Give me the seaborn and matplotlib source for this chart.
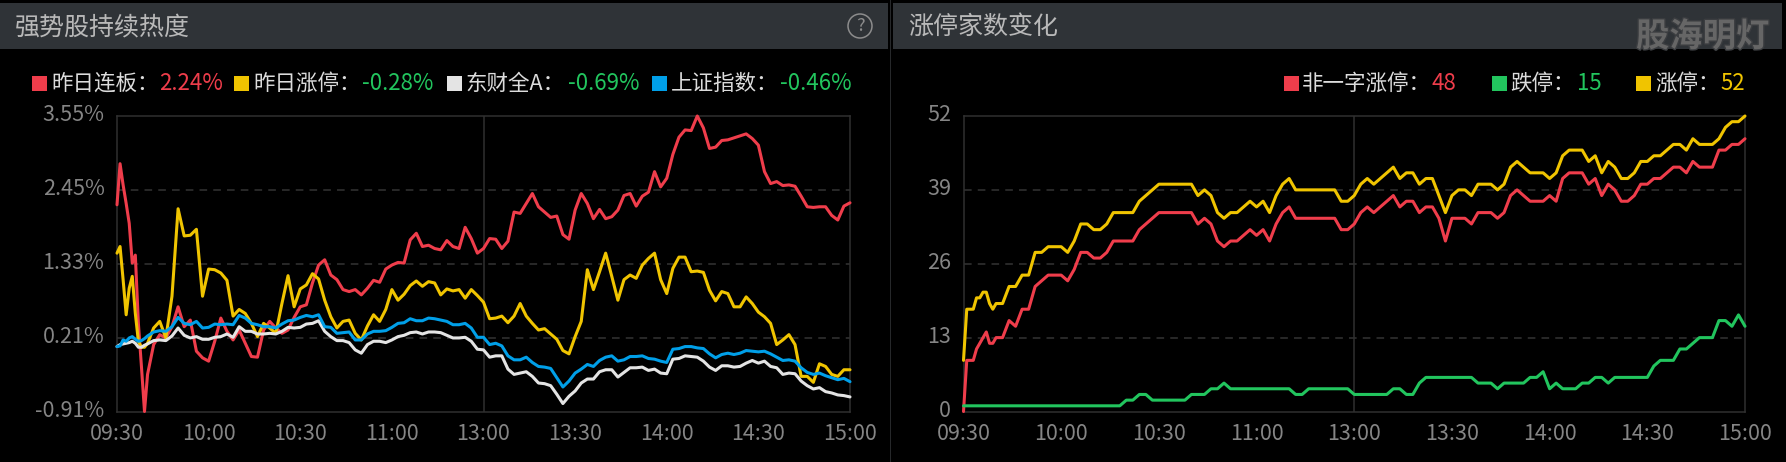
import matplotlib
matplotlib.use('Agg')
import matplotlib.pyplot as plt
import matplotlib.patches as patches
import matplotlib.patheffects as pe
from matplotlib.transforms import ScaledTranslation
import seaborn as sns

# first ten minutes read minute by minute, the rest every two minutes
minutes = list(range(0, 10)) + list(range(10, 241, 2))
time_labels = ['09:30', '10:00', '10:30', '11:00', '13:00', '13:30', '14:00', '14:30', '15:00']
left_yticks = [-0.91, 0.205, 1.32, 2.435, 3.55]
left_ylabels = ['-0.91%', '0.21%', '1.33%', '2.45%', '3.55%']
right_yticks = [0, 13, 26, 39, 52]

# 强势股持续热度 (%)
lianban = [2.21, 2.83, 2.51, 2.23, 1.93, 1.33, 1.45, 0.42, -0.23, -0.91,
           -0.35, 0.10, 0.25, 0.20, 0.37, 0.67, 0.37, 0.47, 0.00, -0.10, -0.15, 0.15, 0.50, 0.30, 0.17, 0.32, 0.12,
           -0.08, -0.09, 0.32, 0.45, 0.35, 0.27, 0.32, 0.51, 0.67, 0.70, 1.03, 1.30, 1.38, 1.15, 1.08, 0.93, 0.90,
           0.93, 0.85,
           0.95, 1.07, 1.04, 1.24, 1.30, 1.34, 1.33, 1.68, 1.78, 1.58, 1.60, 1.55, 1.53, 1.67, 1.58, 1.55, 1.87,
           1.70, 1.48, 1.55, 1.70, 1.69, 1.55, 1.66, 2.10, 2.08, 2.23, 2.38, 2.18, 2.10, 2.02, 2.04, 1.76, 1.69,
           2.13, 2.38, 2.23, 2.00, 2.14, 2.00,
           2.03, 2.13, 2.35, 2.38, 2.19, 2.34, 2.40, 2.71, 2.48, 2.61, 2.97, 3.23, 3.34, 3.33, 3.55, 3.37, 3.06,
           3.08, 3.18, 3.19, 3.22, 3.25, 3.28, 3.21, 3.11, 2.71, 2.53, 2.56, 2.50, 2.51, 2.49, 2.34, 2.18, 2.17,
           2.18, 2.18, 2.05, 1.98, 2.19, 2.24]
zhangting = [1.48, 1.58, 1.08, 0.55, 0.95, 1.13, 0.57, 0.15, 0.06, 0.06,
             0.12, 0.35, 0.45, 0.20, 0.83, 2.15, 1.74, 1.75, 1.84, 0.83, 1.24, 1.23, 1.18, 1.07, 0.53, 0.63, 0.57,
             0.42, 0.22, 0.42, 0.35, 0.27, 0.72, 1.14, 0.67, 0.94, 1.00, 1.17, 1.09, 0.77, 0.52, 0.35, 0.45, 0.47,
             0.27, 0.17,
             0.38, 0.55, 0.45, 0.63, 0.93, 0.77, 0.86, 0.99, 1.06, 0.98, 1.05, 1.03, 0.85, 0.94, 0.91, 0.93, 0.80,
             0.93, 0.84, 0.74, 0.49, 0.50, 0.53, 0.43, 0.53, 0.72, 0.53, 0.42, 0.32, 0.34, 0.26, 0.18, 0.01, -0.04,
             0.22, 0.45, 1.23, 0.93, 1.20, 1.48,
             1.13, 0.77, 1.08, 1.15, 1.10, 1.30, 1.40, 1.48, 1.08, 0.87, 1.25, 1.42, 1.42, 1.20, 1.21, 1.19, 0.92,
             0.76, 0.90, 0.87, 0.67, 0.67, 0.82, 0.72, 0.59, 0.52, 0.42, 0.10, 0.17, 0.25, 0.10, -0.38, -0.38, -0.47,
             -0.19, -0.23, -0.35, -0.38, -0.28, -0.28]
quan_a = [0.07, 0.10, 0.11, 0.12, 0.13, 0.15, 0.12, 0.06, 0.06, 0.09,
          0.11, 0.16, 0.17, 0.16, 0.23, 0.35, 0.24, 0.20, 0.22, 0.18, 0.18, 0.21, 0.22, 0.26, 0.21, 0.37, 0.30,
          0.30, 0.26, 0.26, 0.27, 0.26, 0.30, 0.36, 0.35, 0.36, 0.41, 0.42, 0.46, 0.30, 0.22, 0.16, 0.16, 0.13,
          0.02, -0.03,
          0.10, 0.15, 0.15, 0.13, 0.17, 0.22, 0.24, 0.28, 0.29, 0.26, 0.29, 0.29, 0.28, 0.24, 0.20, 0.20, 0.21,
          0.15, 0.03, 0.02, -0.09, -0.07, -0.07, -0.27, -0.35, -0.33, -0.31, -0.38, -0.48, -0.49, -0.52, -0.65,
          -0.79, -0.68, -0.60, -0.48, -0.42, -0.42, -0.31, -0.28,
          -0.28, -0.39, -0.32, -0.25, -0.25, -0.24, -0.29, -0.27, -0.33, -0.34, -0.12, -0.11, -0.07, -0.08, -0.09,
          -0.15, -0.24, -0.29, -0.22, -0.22, -0.24, -0.23, -0.18, -0.14, -0.18, -0.15, -0.23, -0.25, -0.35, -0.33,
          -0.34, -0.45, -0.52, -0.57, -0.55, -0.61, -0.63, -0.66, -0.67, -0.69]
shangzheng = [0.07, 0.08, 0.17, 0.15, 0.20, 0.22, 0.18, 0.15, 0.16, 0.19,
              0.23, 0.29, 0.31, 0.30, 0.37, 0.51, 0.42, 0.40, 0.45, 0.35, 0.36, 0.41, 0.40, 0.41, 0.40, 0.54, 0.50,
              0.42, 0.40, 0.37, 0.37, 0.35, 0.41, 0.46, 0.47, 0.51, 0.54, 0.52, 0.55, 0.37, 0.36, 0.27, 0.28, 0.29,
              0.17, 0.17,
              0.26, 0.30, 0.30, 0.31, 0.36, 0.42, 0.43, 0.49, 0.46, 0.46, 0.50, 0.49, 0.47, 0.45, 0.40, 0.40, 0.42,
              0.35, 0.21, 0.21, 0.10, 0.12, 0.08, -0.07, -0.13, -0.13, -0.09, -0.17, -0.23, -0.24, -0.26, -0.40,
              -0.54, -0.45, -0.33, -0.27, -0.20, -0.23, -0.14, -0.09,
              -0.07, -0.15, -0.13, -0.08, -0.08, -0.07, -0.11, -0.12, -0.15, -0.17, 0.03, 0.04, 0.07, 0.07, 0.05,
              0.04, -0.04, -0.10, -0.05, -0.03, -0.05, -0.03, 0.01, 0.00, -0.01, 0.00, -0.04, -0.09, -0.14, -0.13,
              -0.15, -0.25, -0.32, -0.35, -0.33, -0.37, -0.40, -0.43, -0.41, -0.46]

# 涨停家数变化
feiyizi = [0, 9, 9, 9, 11, 12, 13, 14, 12, 12,
           13, 13, 16, 15, 18, 18, 22, 23, 24, 24, 24, 23, 25, 28, 28, 27, 27, 28, 30, 30, 30, 30, 32, 33, 34, 35,
           35, 35, 35, 35, 35, 33, 34, 33, 30, 29, 30, 30, 31, 32, 31, 32, 30, 33, 35, 36, 34, 34, 34, 34, 34, 34,
           34, 32, 32,
           33, 35, 36, 35, 36, 37, 38, 36, 37, 37, 35, 36, 36, 34, 30, 34, 34, 34, 33, 35, 35, 35, 34, 35, 38, 39,
           38, 37, 37, 37, 38, 37, 41, 42, 42, 42, 40, 41, 38, 40, 39, 37, 37, 38, 40, 40, 41, 41, 42, 43, 43, 42,
           44, 43, 43, 43, 46, 46, 47, 47, 48]
dieting = [1, 1, 1, 1, 1, 1, 1, 1, 1, 1,
           1, 1, 1, 1, 1, 1, 1, 1, 1, 1, 1, 1, 1, 1, 1, 1, 1, 1, 1, 1, 2, 2, 3, 3, 2, 2, 2, 2, 2, 2, 3, 3, 3, 4, 4,
           5, 4, 4, 4, 4, 4, 4, 4, 4, 4, 4, 3, 3, 4, 4, 4, 4, 4, 4, 4,
           3, 3, 3, 3, 3, 3, 4, 4, 3, 3, 5, 6, 6, 6, 6, 6, 6, 6, 6, 5, 5, 5, 4, 5, 5, 5, 5, 6, 6, 7, 4, 5, 4, 4, 4,
           5, 5, 6, 6, 5, 6, 6, 6, 6, 6, 6, 8, 9, 9, 9, 11, 11, 12, 13, 13, 13, 16, 16, 15, 17, 15]
zhangting_count = [9, 18, 18, 18, 20, 20, 21, 21, 19, 18,
                   19, 19, 22, 22, 24, 24, 28, 28, 29, 29, 29, 28, 30, 33, 33, 32, 32, 33, 35, 35, 35, 35, 37, 38, 39,
                   40, 40, 40, 40, 40, 40, 38, 39, 38, 35, 34, 35, 35, 36, 37, 36, 37, 35, 38, 40, 41, 39, 39, 39, 39,
                   39, 39, 39, 37, 37,
                   38, 40, 41, 40, 41, 42, 43, 41, 42, 42, 40, 41, 41, 38, 35, 38, 39, 39, 38, 40, 40, 40, 39, 40, 43,
                   44, 43, 42, 42, 42, 41, 42, 45, 46, 46, 46, 44, 45, 42, 44, 43, 41, 41, 42, 44, 44, 45, 45, 46, 47,
                   47, 46, 48, 47, 47, 47, 48, 50, 51, 51, 52]

left_legend = [('昨日连板：', '2.24%', '#ef3d4b'), ('昨日涨停：', '-0.28%', '#22c55e'),
               ('东财全A：', '-0.69%', '#22c55e'), ('上证指数：', '-0.46%', '#22c55e')]
right_legend = [('非一字涨停：', '48', '#ef3d4b'), ('跌停：', '15', '#22c55e'), ('涨停：', '52', '#f0c400')]

RED, YELLOW, WHITE, BLUE, GREEN = '#ef3d4b', '#f0c400', '#e4e4e4', '#009fe8', '#22c55e'
W, H = 1786, 462

sns.set_theme(style='dark')
plt.rcParams['font.family'] = ['Noto Sans CJK SC', 'DejaVu Sans']
plt.rcParams['axes.unicode_minus'] = False

fig = plt.figure(figsize=(W / 100, H / 100), dpi=100, facecolor='#000000')


def rect(x0, y0, x1, y1, color):
    fig.add_artist(patches.Rectangle((x0 / W, 1 - y1 / H), (x1 - x0) / W, (y1 - y0) / H,
                                     transform=fig.transFigure, facecolor=color, edgecolor='none'))


def label(x, y, s, color, size, **kw):
    kw.setdefault('ha', 'left')
    return fig.text(x / W, 1 - y / H, s, color=color, fontsize=size, va='center', **kw)


def setup_axes(x0, x1, yticks, ylabels, ymin, ymax):
    ax = fig.add_axes([x0 / W, 1 - 411.5 / H, (x1 - x0) / W, 295.5 / H], facecolor='#000000')
    ax.set_xlim(0, 240)
    ax.set_ylim(ymin, ymax)
    ax.set_xticks(range(0, 241, 30))
    ax.set_xticklabels(time_labels)
    ax.set_yticks(yticks)
    ax.set_yticklabels(ylabels)
    ax.tick_params(axis='both', length=0, labelsize=15.5, labelcolor='#858585')
    ax.tick_params(axis='x', pad=8)
    ax.tick_params(axis='y', pad=9)
    # labels sit a little above their gridlines
    up = ScaledTranslation(0, 2.5 / 72, fig.dpi_scale_trans)
    for t in ax.get_yticklabels():
        t.set_transform(t.get_transform() + up)
    for s in ax.spines.values():
        s.set_color('#303030')
        s.set_linewidth(1.1)
    ax.grid(False)
    for v in yticks[1:-1]:
        ax.axhline(v, color='#333333', lw=1.1, dashes=(5, 4), zorder=1)
    ax.axvline(120, color='#303030', lw=1.1, zorder=1)
    ax.set_xlabel('')
    ax.set_ylabel('')
    return ax


# header bars
rect(0, 3, 888, 49, '#2f3337')
rect(893, 3, 1782, 49, '#2f3337')
rect(889.5, 0, 891, 462, '#26282a')
label(15, 27, '强势股持续热度', '#b9b9b9', 18)
label(908, 27, '涨停家数变化', '#b9b9b9', 18)
fig.add_artist(patches.Ellipse((860 / W, 1 - 26 / H), 24 / W, 24 / H, transform=fig.transFigure,
                               facecolor='none', edgecolor='#8c8c8c', lw=1.1))
label(860, 26, '?', '#8c8c8c', 13, ha='center')
label(1636, 37, '股海明灯', '#666666', 24, fontweight='bold',
      path_effects=[pe.withStroke(linewidth=2, foreground='#3b3d40')])

# legends
left_x = [(32, 51, 159), (234, 253, 362), (447, 465, 568), (652, 671, 780)]
for (sq, tx, vx), (name, val, col), c in zip(left_x, left_legend, [RED, YELLOW, WHITE, BLUE]):
    rect(sq, 76, sq + 15, 91, c)
    label(tx, 84, name, '#dcdcdc', 15.5)
    label(vx, 84, val, col, 16)
right_x = [(1284, 1302, 1431), (1492, 1510, 1577), (1636, 1655, 1720)]
for (sq, tx, vx), (name, val, col), c in zip(right_x, right_legend, [RED, GREEN, YELLOW]):
    rect(sq, 76, sq + 15, 91, c)
    label(tx, 84, name, '#dcdcdc', 15.5)
    label(vx, 84, val, col, 16)

# left chart
ax1 = setup_axes(117, 850, left_yticks, left_ylabels, -0.91, 3.55)
for series, c in [(lianban, RED), (zhangting, YELLOW), (quan_a, WHITE), (shangzheng, BLUE)]:
    sns.lineplot(x=minutes, y=series, color=c, linewidth=2.2, ax=ax1, zorder=3, clip_on=False)

# right chart
ax2 = setup_axes(963.5, 1745, right_yticks, [str(v) for v in right_yticks], 0, 52)
for series, c in [(feiyizi, RED), (dieting, GREEN), (zhangting_count, YELLOW)]:
    sns.lineplot(x=minutes, y=series, color=c, linewidth=2.2, ax=ax2, zorder=3, clip_on=False)

fig.savefig('out.png', dpi=100, facecolor=fig.get_facecolor())
